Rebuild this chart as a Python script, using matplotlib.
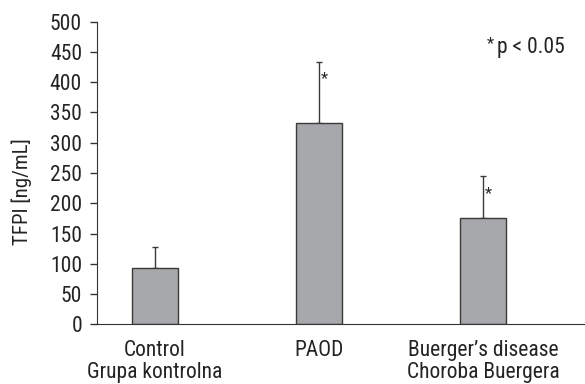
import matplotlib.pyplot as plt

plt.rcParams['font.family'] = ['Roboto Condensed', 'DejaVu Sans']

groups = ["Control\nGrupa kontrolna", "PAOD", "Buerger\u2019s disease\nChoroba Buergera"]
means = [93, 332, 176]
sd = [34, 102, 69]
signif = [False, True, True]
yticks = [0, 50, 100, 150, 200, 250, 300, 350, 400, 450, 500]

W, H = 585, 384
fig = plt.figure(figsize=(W / 100, H / 100), dpi=100)
ax = fig.add_axes([97.3 / W, (H - 324.3) / H, 1 - 97.3 / W, 302.6 / H])

txt = '#242424'
x = [0, 1, 2]
ax.bar(x, means, width=0.275, color='#a7a8ab', edgecolor='#3a3a3a', linewidth=1.0, zorder=2)
ax.errorbar(x, means, yerr=[[0] * 3, sd], fmt='none', ecolor='#3a3a3a',
            elinewidth=1.0, capsize=2.5, capthick=1.0, zorder=1)
for xi, m, s, sig in zip(x, means, sd, signif):
    if sig:
        ax.annotate('*', xy=(xi, m + s), xytext=(1.5, -7), textcoords='offset points',
                    fontsize=12, va='top', ha='left', color=txt)

ax.set_xlim(-0.352, 2.622)
ax.set_ylim(0, 500)
ax.set_yticks(yticks)
ax.set_xticks(x)
ax.set_xticklabels(groups, fontsize=15.5, color=txt, linespacing=1.12)
ax.tick_params(axis='x', length=0, pad=11)
ax.tick_params(axis='y', labelsize=15.5, labelcolor=txt, length=5, width=1.0,
               color='#333333', pad=6)
for side in ['top', 'right']:
    ax.spines[side].set_visible(False)
ax.spines['left'].set_color('#333333')
ax.spines['bottom'].set_color('#333333')

fig.text(22 / W, 1 - 192 / H, 'TFPI [ng/mL]', rotation=90, fontsize=15, color=txt,
         ha='center', va='center')

fig.text(565 / W, 1 - 53.3 / H, 'p < 0.05', fontsize=15.5, color=txt, ha='right', va='baseline')
fig.text(487 / W, 1 - 36 / H, '*', fontsize=12, color=txt, ha='left', va='top')

fig.savefig('out.png', dpi=100)
